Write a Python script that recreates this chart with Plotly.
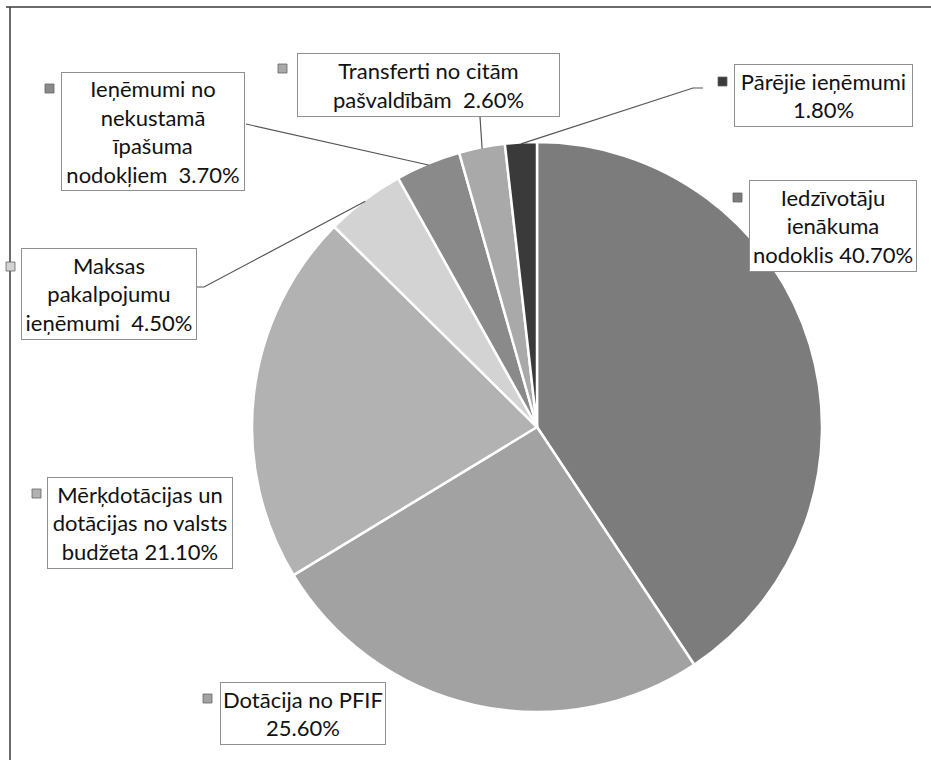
import numpy as np
import plotly.graph_objects as go

W, H = 931, 760

# ---- data ----
labels = [
    "Iedzīvotāju ienākuma nodoklis",
    "Dotācija no PFIF",
    "Mērķdotācijas un dotācijas no valsts budžeta",
    "Maksas pakalpojumu ieņēmumi",
    "Ieņēmumi no nekustamā īpašuma nodokļiem",
    "Transferti no citām pašvaldībām",
    "Pārējie ieņēmumi",
]
values = [40.7, 25.6, 21.1, 4.5, 3.7, 2.6, 1.8]
label_texts = [
    "Iedzīvotāju<br>ienākuma<br>nodoklis 40.70%",
    "Dotācija no PFIF<br>25.60%",
    "Mērķdotācijas un<br>dotācijas no valsts<br>budžeta 21.10%",
    "Maksas<br>pakalpojumu<br>ieņēmumi  4.50%",
    "Ieņēmumi no<br>nekustamā<br>īpašuma<br>nodokļiem  3.70%",
    "Transferti no citām<br>pašvaldībām  2.60%",
    "Pārējie ieņēmumi<br>1.80%",
]
colors = ["#7c7c7c", "#a2a2a2", "#b2b2b2", "#d3d3d3", "#8a8a8a", "#a9a9a9", "#3a3a3a"]

# ---- layout (pixels) ----
CX, CY, R = 537, 427, 285
# label boxes: left, top, right, bottom
boxes = [
    (749, 180, 917, 272),
    (220, 682, 386, 745),
    (47, 477, 233, 569),
    (21, 248, 197, 340),
    (61, 72, 245, 191),
    (297, 53, 560, 117),
    (734, 64, 913, 127),
]
# marker squares (left, top)
markers = [(733, 193), (203, 694), (32, 489), (6, 262), (45, 84), (278, 64), (718, 77)]
# leader anchor points near the boxes (list of pixel points, from pie side outward)
leaders = {
    3: [(204, 287), (197, 287)],
    4: [(246, 124)],
    5: [(480, 117)],
    6: [(693, 88), (703, 88)],
}


def px(x):
    return x / W


def py(y):
    return 1 - y / H


fig = go.Figure(go.Pie(
    labels=labels,
    values=values,
    sort=False,
    direction="clockwise",
    rotation=0,
    marker=dict(colors=colors, line=dict(color="white", width=2.5)),
    textinfo="none",
    hoverinfo="label+percent",
    showlegend=False,
    domain=dict(x=[px(CX - R), px(CX + R)], y=[py(CY + R), py(CY - R)]),
))

shapes = []
annotations = []

# frame lines
shapes.append(dict(type="line", xref="paper", yref="paper", x0=px(6), y0=py(7), x1=1.0, y1=py(7),
                   line=dict(color="#3a3a3a", width=1.5)))
shapes.append(dict(type="line", xref="paper", yref="paper", x0=px(10), y0=py(7), x1=px(10), y1=0,
                   line=dict(color="#3a3a3a", width=1.5)))

cum = np.cumsum([0] + values[:-1])
total = sum(values)
for i, (v, txt) in enumerate(zip(values, label_texts)):
    l, t, r, b = boxes[i]
    annotations.append(dict(
        xref="paper", yref="paper", x=px((l + r) / 2), y=py((t + b) / 2),
        xanchor="center", yanchor="middle", showarrow=False,
        text=txt, align="center",
        width=r - l - 2, height=b - t - 2, borderpad=0,
        bgcolor="white", bordercolor="#8f8f8f", borderwidth=1,
        font=dict(family="Lato, 'Open Sans', sans-serif", size=22, color="#111111"),
    ))
    mx, my = markers[i]
    shapes.append(dict(type="rect", xref="paper", yref="paper",
                       x0=px(mx), y0=py(my), x1=px(mx + 9), y1=py(my + 9),
                       fillcolor=colors[i], line=dict(color="#666666", width=0.8)))
    if i in leaders:
        mid = (cum[i] + v / 2) / total * 2 * np.pi
        ex = CX + R * 0.995 * np.sin(mid)
        ey = CY - R * 0.995 * np.cos(mid)
        pts = [(ex, ey)] + leaders[i]
        path = "M " + " L ".join(f"{px(x):.5f},{py(y):.5f}" for x, y in pts)
        shapes.append(dict(type="path", xref="paper", yref="paper", path=path,
                           line=dict(color="#555555", width=1.2)))

fig.update_layout(
    width=W, height=H,
    margin=dict(l=0, r=0, t=0, b=0),
    paper_bgcolor="white", plot_bgcolor="white",
    shapes=shapes, annotations=annotations,
)

fig.write_html(
    "out.html",
    config={"displayModeBar": False},
    post_script="document.body.style.margin='0';document.body.style.overflow='hidden';",
)
